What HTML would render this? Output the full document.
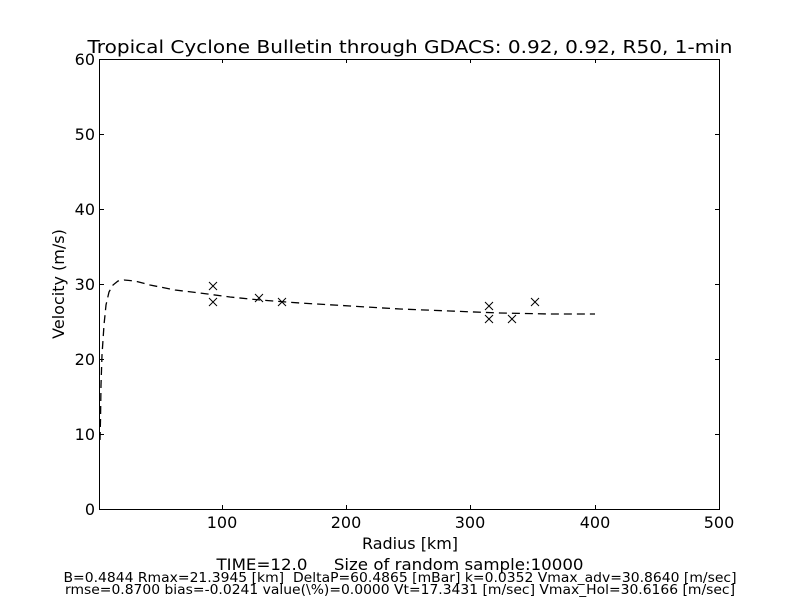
<!DOCTYPE html>
<html><head><meta charset="utf-8"><style>
body{margin:0;background:#fff}
svg{display:block;font-family:"DejaVu Sans","Liberation Sans",sans-serif}
</style></head><body>
<svg width="800" height="600" viewBox="0 0 800 600" xmlns="http://www.w3.org/2000/svg">
<rect width="800" height="600" fill="#fff"/>
<text x="410" y="53" font-size="18" text-anchor="middle" textLength="645" lengthAdjust="spacingAndGlyphs">Tropical Cyclone Bulletin through GDACS: 0.92, 0.92, R50, 1-min</text>
<rect x="99.5" y="59.5" width="620" height="450" fill="none" stroke="#000" stroke-width="1"/>
<g stroke="#000" stroke-width="1">
<line x1="222.5" y1="509" x2="222.5" y2="505"/><line x1="222.5" y1="59" x2="222.5" y2="63"/>
<line x1="346.5" y1="509" x2="346.5" y2="505"/><line x1="346.5" y1="59" x2="346.5" y2="63"/>
<line x1="470.5" y1="509" x2="470.5" y2="505"/><line x1="470.5" y1="59" x2="470.5" y2="63"/>
<line x1="595.5" y1="509" x2="595.5" y2="505"/><line x1="595.5" y1="59" x2="595.5" y2="63"/>
<line x1="100" y1="434.5" x2="104" y2="434.5"/><line x1="719" y1="434.5" x2="715" y2="434.5"/>
<line x1="100" y1="359.5" x2="104" y2="359.5"/><line x1="719" y1="359.5" x2="715" y2="359.5"/>
<line x1="100" y1="284.5" x2="104" y2="284.5"/><line x1="719" y1="284.5" x2="715" y2="284.5"/>
<line x1="100" y1="209.5" x2="104" y2="209.5"/><line x1="719" y1="209.5" x2="715" y2="209.5"/>
<line x1="100" y1="134.5" x2="104" y2="134.5"/><line x1="719" y1="134.5" x2="715" y2="134.5"/>
</g>
<g font-size="16" text-anchor="middle">
<text x="222" y="528">100</text><text x="346" y="528">200</text><text x="470" y="528">300</text><text x="595" y="528">400</text><text x="719" y="528">500</text>
</g>
<g font-size="16" text-anchor="end">
<text x="95" y="515">0</text><text x="95" y="440">10</text><text x="95" y="365">20</text><text x="95" y="290">30</text><text x="95" y="215">40</text><text x="95" y="140">50</text><text x="95" y="65">60</text>
</g>
<text x="410" y="549" font-size="16" text-anchor="middle">Radius [km]</text>
<text transform="translate(64,284) rotate(-90)" font-size="16" text-anchor="middle">Velocity (m/s)</text>
<polyline fill="none" stroke="#000" stroke-width="1.3" stroke-dasharray="8,5" points="100,440 100.5,420 101,385 102,355 104,325 106,305 109,292 113,285 118,281 124,280 135,281 150,285 175,290 200,293 230,297 260,300 300,303 350,306 400,309 450,311 500,313 550,314 595,314"/>
<g stroke="#000" stroke-width="1" fill="none">
<path d="M209,282l8,8M217,282l-8,8"/>
<path d="M209,298l8,8M217,298l-8,8"/>
<path d="M255,294l8,8M263,294l-8,8"/>
<path d="M278,298l8,8M286,298l-8,8"/>
<path d="M485,302l8,8M493,302l-8,8"/>
<path d="M485,315l8,8M493,315l-8,8"/>
<path d="M508,315l8,8M516,315l-8,8"/>
<path d="M531,298l8,8M539,298l-8,8"/>
</g>
<text x="400" y="570" font-size="16" text-anchor="middle" xml:space="preserve" textLength="367" lengthAdjust="spacingAndGlyphs">TIME=12.0     Size of random sample:10000</text>
<text x="400" y="582" font-size="13" text-anchor="middle" xml:space="preserve" textLength="673" lengthAdjust="spacingAndGlyphs">B=0.4844 Rmax=21.3945 [km]  DeltaP=60.4865 [mBar] k=0.0352 Vmax_adv=30.8640 [m/sec]</text>
<text x="400" y="594" font-size="13" text-anchor="middle" textLength="670" lengthAdjust="spacingAndGlyphs">rmse=0.8700 bias=-0.0241 value(\%)=0.0000 Vt=17.3431 [m/sec] Vmax_Hol=30.6166 [m/sec]</text>
</svg>
</body></html>
